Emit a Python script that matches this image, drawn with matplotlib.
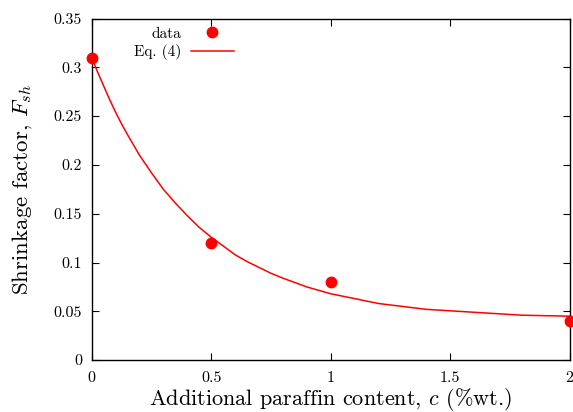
import matplotlib
matplotlib.use("Agg")
import matplotlib.pyplot as plt
from matplotlib.ticker import FuncFormatter

plt.rcParams['font.family'] = 'serif'
plt.rcParams['font.serif'] = ['cmr10']
plt.rcParams['mathtext.fontset'] = 'cm'
plt.rcParams['axes.unicode_minus'] = False
plt.rcParams['axes.formatter.use_mathtext'] = True

# measured points
c_data = [0, 0.5, 1, 2]
f_data = [0.31, 0.12, 0.08, 0.04]

# Eq. (4) curve
c_fit = [0, 0.025, 0.05, 0.075, 0.1, 0.125, 0.15, 0.2, 0.25, 0.3, 0.35, 0.4,
         0.45, 0.5, 0.55, 0.6, 0.65, 0.7, 0.75, 0.8, 0.9, 1.0, 1.1, 1.2, 1.3,
         1.4, 1.6, 1.8, 2.0]
f_fit = [0.310, 0.295, 0.281, 0.267, 0.254, 0.242, 0.231, 0.210, 0.192,
         0.175, 0.161, 0.148, 0.136, 0.126, 0.117, 0.108, 0.101, 0.095,
         0.089, 0.084, 0.075, 0.068, 0.063, 0.058, 0.055, 0.052, 0.049,
         0.046, 0.045]

x_ticks = [0, 0.5, 1, 1.5, 2]
y_ticks = [0, 0.05, 0.1, 0.15, 0.2, 0.25, 0.3, 0.35]

fig = plt.figure(figsize=(5.73, 4.12), dpi=100)
ax = fig.add_axes([0.160, 0.126, 0.834, 0.829])

ax.plot(c_data, f_data, 'o', color='#ff0000', markersize=7.5, clip_on=False,
        zorder=3, label='data')
ax.plot(c_fit, f_fit, '-', color='#ff0000', linewidth=1.1, label='Eq. (4)')

ax.set_xlim(0, 2)
ax.set_ylim(0, 0.35)
ax.set_xticks(x_ticks)
ax.set_yticks(y_ticks)
fmt = FuncFormatter(lambda v, p: '%g' % v)
ax.xaxis.set_major_formatter(fmt)
ax.yaxis.set_major_formatter(fmt)
ax.tick_params(direction='in', top=True, right=True, length=5, width=0.8,
               labelsize=11.5)
ax.tick_params(axis='x', pad=8)
ax.tick_params(axis='y', pad=7)
for s in ax.spines.values():
    s.set_linewidth(1.0)

ax.set_xlabel('Additional paraffin content, $c$ (%wt.)', fontsize=16, labelpad=1)
ax.set_ylabel('Shrinkage factor, $F_{sh}$', fontsize=16.5, labelpad=14)

leg = ax.legend(loc='upper right', bbox_to_anchor=(0.297, 0.975), frameon=False,
                markerfirst=False, fontsize=11, handlelength=2.8,
                handletextpad=0.65, labelspacing=0.2, borderpad=0,
                borderaxespad=0)
for col in leg._legend_box._children[-1]._children:
    col.align = 'right'

fig.savefig('out.png', dpi=100)
